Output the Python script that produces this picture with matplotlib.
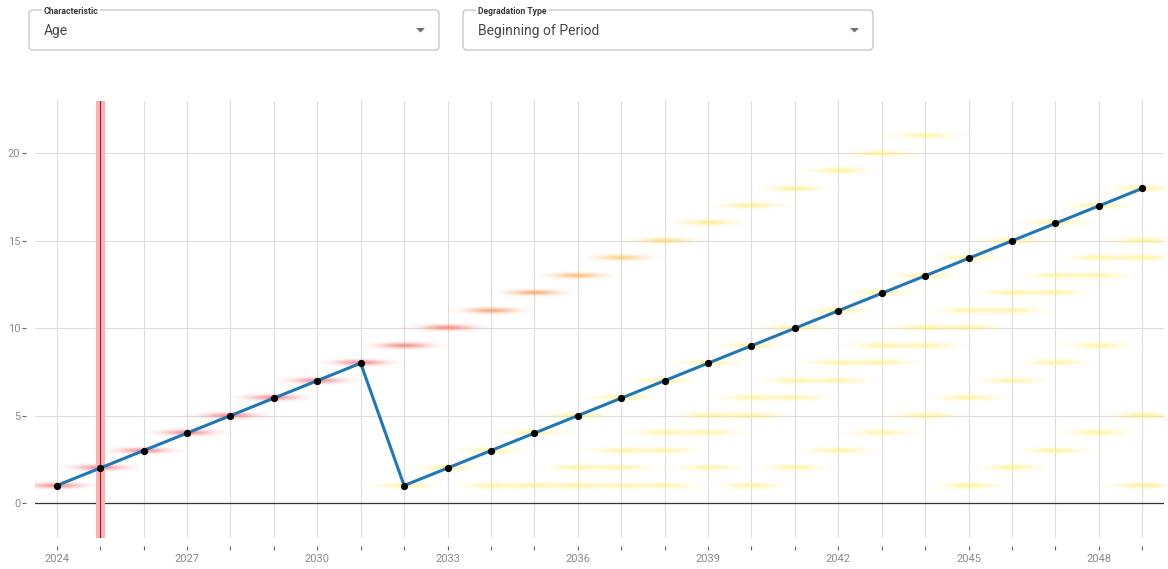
import matplotlib

matplotlib.use("Agg")
import matplotlib.pyplot as plt
import matplotlib.transforms as mtransforms
import numpy as np
from matplotlib.colors import LinearSegmentedColormap, to_rgb
from matplotlib.patches import FancyBboxPatch, Polygon

plt.rcParams["font.family"] = ["Roboto", "DejaVu Sans"]

# --- data -------------------------------------------------------------------
years = [2024, 2025, 2026, 2027, 2028, 2029, 2030, 2031, 2032, 2033, 2034, 2035, 2036,
         2037, 2038, 2039, 2040, 2041, 2042, 2043, 2044, 2045, 2046, 2047, 2048, 2049]
age = [1, 2, 3, 4, 5, 6, 7, 8, 1, 2, 3, 4, 5,
       6, 7, 8, 9, 10, 11, 12, 13, 14, 15, 16, 17, 18]
x_label_years = [2024, 2027, 2030, 2033, 2036, 2039, 2042, 2045, 2048]
y_ticks = [0, 5, 10, 15, 20]
current_year = 2025

# distribution of simulated ages (year, age, density level 0..1)
heat_years = [
    # original asset, never replaced
    2024, 2025, 2026, 2027, 2028, 2029, 2030, 2031, 2032, 2033, 2034,
    2035, 2036, 2037, 2038, 2039, 2040, 2041, 2042, 2043, 2044,
    # replaced 2032
    2032, 2033, 2034, 2035, 2036, 2037, 2038, 2039, 2040,
    2041, 2042, 2043, 2044, 2045, 2046, 2047, 2048, 2049,
    # replaced 2035
    2035, 2036, 2037, 2038, 2039, 2040, 2041, 2042, 2043, 2044, 2045, 2046, 2047, 2048, 2049,
    # replaced 2036
    2036, 2037, 2038, 2039, 2040, 2041, 2042, 2043, 2044, 2045, 2046, 2047, 2048, 2049,
    # replaced 2040
    2040, 2041, 2042, 2043, 2044, 2045, 2046, 2047, 2048,
    # replaced 2045
    2045, 2046, 2047, 2048, 2049,
    # single years
    2034, 2037, 2038, 2039, 2049,
]
heat_ages = [
    1, 2, 3, 4, 5, 6, 7, 8, 9, 10, 11,
    12, 13, 14, 15, 16, 17, 18, 19, 20, 21,
    1, 2, 3, 4, 5, 6, 7, 8, 9,
    10, 11, 12, 13, 14, 15, 16, 17, 18,
    1, 2, 3, 4, 5, 6, 7, 8, 9, 10, 11, 12, 13, 14, 15,
    1, 2, 3, 4, 5, 6, 7, 8, 9, 10, 11, 12, 13, 14,
    1, 2, 3, 4, 5, 6, 7, 8, 9,
    1, 2, 3, 4, 5,
    1, 1, 1, 2, 1,
]
heat_levels = [
    1.0, 1.0, 1.0, 1.0, 1.0, 1.0, 1.0, 1.0, 0.92, 0.84, 0.72,
    0.66, 0.56, 0.46, 0.34, 0.26, 0.24, 0.22, 0.2, 0.18, 0.16,
    0.14, 0.16, 0.16, 0.16, 0.16, 0.16, 0.16, 0.16, 0.16,
    0.16, 0.16, 0.16, 0.16, 0.16, 0.16, 0.16, 0.16, 0.18,
    0.16, 0.16, 0.16, 0.16, 0.16, 0.16, 0.16, 0.16, 0.16, 0.16, 0.16, 0.16, 0.16, 0.16, 0.18,
    0.16, 0.16, 0.16, 0.16, 0.16, 0.16, 0.16, 0.16, 0.16, 0.16, 0.16, 0.16, 0.16, 0.18,
    0.18, 0.18, 0.18, 0.18, 0.18, 0.18, 0.18, 0.18, 0.18,
    0.2, 0.2, 0.2, 0.2, 0.22,
    0.14, 0.12, 0.14, 0.16, 0.22,
]

dropdowns = [("Characteristic", "Age"), ("Degradation Type", "Beginning of Period")]

# --- figure -----------------------------------------------------------------
W, H, DPI = 1168, 569, 100
fig = plt.figure(figsize=(W / DPI, H / DPI), dpi=DPI)
# pixel coords, origin top-left
px = mtransforms.Affine2D().scale(1 / DPI, -1 / DPI).translate(0, H / DPI) + fig.dpi_scale_trans

for i, (label, value) in enumerate(dropdowns):
    x0 = 29 + i * 434
    fig.add_artist(FancyBboxPatch((x0, 10), 410, 40, boxstyle="round,pad=0,rounding_size=4",
                                  transform=px, fc="white", ec="#c4c4c4", lw=0.9))
    fig.text(x0 + 15, 11, label, transform=px, fontsize=6.2, color="#3a3a3a",
             weight="bold", va="center", ha="left",
             bbox=dict(fc="white", ec="none", pad=1.2))
    fig.text(x0 + 15, 30.5, value, transform=px, fontsize=10, color="#484848",
             va="center", ha="left")
    fig.add_artist(Polygon([(x0 + 387, 28), (x0 + 396, 28), (x0 + 391.5, 32.5)],
                           closed=True, transform=px, fc="#707070", ec="none"))

ax = fig.add_axes([35 / W, 1 - 538 / H, 1129 / W, 437 / H])

cmap = LinearSegmentedColormap.from_list(
    "heat",
    [(0.0, "#fff7a8"), (0.2, "#ffee70"), (0.45, "#fbc35e"),
     (0.65, "#f59a52"), (0.82, "#f07c62"), (1.0, "#f27878")],
)

# gaussian glow for each simulated (year, age) cell
gx = np.linspace(-1.0, 1.0, 101)
gy = np.linspace(-0.35, 0.35, 35)
GX, GY = np.meshgrid(gx, gy)
glow = np.exp(-0.5 * (GX / 0.38) ** 2) * np.exp(-0.5 * (GY / 0.1) ** 2)

for yr, ag, lv in zip(heat_years, heat_ages, heat_levels):
    rgba = np.zeros(glow.shape + (4,))
    rgba[..., :3] = to_rgb(cmap(lv))
    rgba[..., 3] = glow * (0.6 + 0.2 * lv)
    ax.imshow(rgba, extent=[yr - 1.0, yr + 1.0, ag - 0.35, ag + 0.35],
              aspect="auto", interpolation="bilinear", zorder=2)

ax.axvspan(current_year - 0.105, current_year + 0.105, color="#ffb0b0", lw=0, zorder=3)
ax.axvline(current_year, color="#6b3030", lw=0.8, zorder=3)

ax.axhline(0, color="#333333", lw=0.9, zorder=1.5)
ax.plot(years, age, color="#1f77b4", lw=2.2, zorder=5)
ax.plot(years, age, "o", color="black", ms=4.2, zorder=6)

ax.set_xlim(2023.5, 2049.5)
ax.set_ylim(-2, 23)
ax.set_xticks(years)
ax.set_xticklabels([str(y) if y in x_label_years else "" for y in years])
ax.set_yticks(y_ticks)
ax.grid(True, color="#dddddd", lw=0.8, zorder=0)
ax.set_axisbelow(True)

for side in ["top", "right", "bottom", "left"]:
    ax.spines[side].set_visible(False)
ax.spines["bottom"].set_position(("outward", 5.8))
ax.spines["left"].set_position(("outward", 6.5))
ax.tick_params(axis="both", direction="out", length=3.2, width=0.8, color="#666666",
               labelcolor="#8a8a8a", labelsize=8)
ax.tick_params(axis="x", pad=2.5)
ax.tick_params(axis="y", pad=1)

fig.savefig("out.png", dpi=DPI, facecolor="white")
